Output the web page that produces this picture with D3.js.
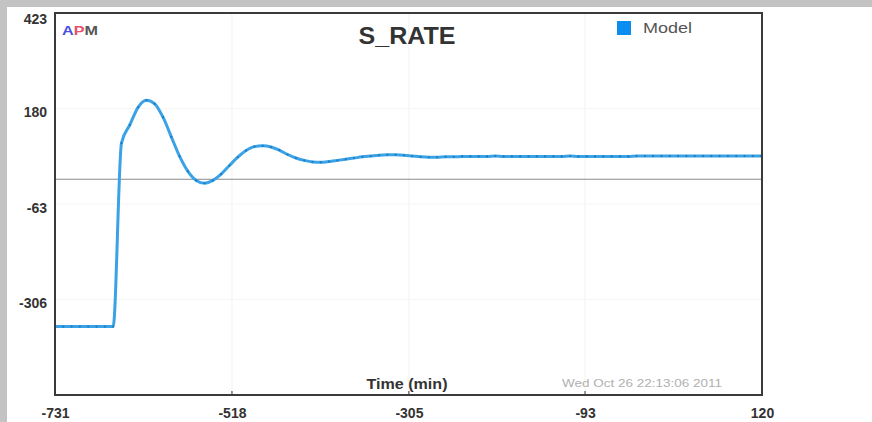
<!DOCTYPE html>
<html>
<head>
<meta charset="utf-8">
<script src="https://cdn.jsdelivr.net/npm/d3@7/dist/d3.min.js"></script>
<style>
  html, body { margin: 0; padding: 0; background: #fff; }
  svg { display: block; font-family: "Liberation Sans", Arial, sans-serif; }
</style>
</head>
<body>
<svg id="chart" width="872" height="422"></svg>
<script>
// ---- data ----
const times = [-731,-721,-711,-701,-691,-681,-671,-661,-651,-641,-631,-621,-611,-601,-591,-581,-571,-561,-551,-541,-531,-521,-511,-501,-491,-481,-471,-461,-451,-441,-431,-421,-411,-401,-391,-381,-371,-361,-351,-341,-331,-321,-311,-301,-291,-281,-271,-261,-251,-241,-231,-221,-211,-201,-191,-181,-171,-161,-151,-141,-131,-121,-111,-101,-91,-81,-71,-61,-51,-41,-31,-21,-11,-1,9,19,29,39,49,59,69,79,89,99,109,119,120];
const modelValues = [-375,-375,-375,-375,-375,-375,-375,-375,92,138,183,201,192,158,108,58,20,-3,-10,-3,13,35,56,73,83,85,82,74,63,54,48,44,43,45,48,51,54,57,59,61,62,62,61,59,57,56,56,57,57,58,58,58,58,59,58,58,58,58,58,58,58,58,59,58,58,58,58,58,58,58,59,59,59,59,59,59,59,59,59,59,59,59,59,59,59,59,59];
const xTickValues = [-731, -518, -305, -93, 120];
const yTickValues = [-306, -63, 180, 423];
const xDomain = [-731, 120];
const yDomain = [-549, 423];
const seriesName = "Model";
const chartTitle = "S_RATE";
const xLabel = "Time (min)";
const stamp = "Wed Oct 26 22:13:06 2011";

// ---- layout ----
const svg = d3.select("#chart");
const W = 872, H = 422;
const pL = 55, pR = 762, pT = 13, pB = 395;
const fmt = d => String(d);

svg.append("rect").attr("x", 0).attr("y", 0).attr("width", W).attr("height", H).attr("fill", "#fff");
// grey frame strips
svg.append("rect").attr("x", 0).attr("y", 0).attr("width", W).attr("height", 7).attr("fill", "#c3c3c3");
svg.append("rect").attr("x", 0).attr("y", 0).attr("width", 7).attr("height", H).attr("fill", "#c3c3c3");

const x = d3.scaleLinear().domain(xDomain).range([pL, pR]);
const y = d3.scaleLinear().domain(yDomain).range([pB, pT]);

// faint grid
const grid = svg.append("g");
grid.selectAll("line.v").data(xTickValues.slice(1, -1)).join("line")
  .attr("x1", d => x(d)).attr("x2", d => x(d)).attr("y1", pT).attr("y2", pB)
  .attr("stroke", "#f2f2f2").attr("stroke-width", 1);
grid.selectAll("line.h").data(yTickValues.slice(0, -1)).join("line")
  .attr("x1", pL).attr("x2", pR).attr("y1", d => y(d)).attr("y2", d => y(d))
  .attr("stroke", "#f5f5f5").attr("stroke-width", 1);

// zero line
svg.append("line").attr("x1", pL).attr("x2", pR).attr("y1", y(0)).attr("y2", y(0))
  .attr("stroke", "#8a8a8a").attr("stroke-width", 1.2);

// axes (labels)
const xAxis = d3.axisBottom(x).tickValues(xTickValues).tickSize(0).tickPadding(13).tickFormat(fmt);
const gx = svg.append("g").attr("transform", `translate(0,${pB})`).call(xAxis);
gx.select(".domain").remove();
gx.selectAll("text").attr("font-size", 14).attr("font-weight", "bold").attr("fill", "#333")
  .attr("font-family", "Liberation Sans, Arial, sans-serif");

const yAxis = d3.axisLeft(y).tickValues(yTickValues).tickSize(0).tickPadding(8).tickFormat(fmt);
const gy = svg.append("g").attr("transform", `translate(${pL},0)`).call(yAxis);
gy.select(".domain").remove();
gy.selectAll("text").attr("font-size", 14).attr("font-weight", "bold").attr("fill", "#333")
  .attr("dy", "0.6em").attr("font-family", "Liberation Sans, Arial, sans-serif");
gy.selectAll(".tick").filter(d => d === 423).select("text").attr("dy", "0.72em");

// small inner ticks on bottom axis
svg.append("g").selectAll("line").data(xTickValues.slice(1, -1)).join("line")
  .attr("x1", d => x(d)).attr("x2", d => x(d)).attr("y1", pB).attr("y2", pB - 4)
  .attr("stroke", "#333").attr("stroke-width", 1);

// series line
const line = d3.line().x((d, i) => x(times[i])).y(d => y(d)).curve(d3.curveMonotoneX);
svg.append("path").datum(modelValues).attr("d", line)
  .attr("fill", "none").attr("stroke", "#3aa2e6").attr("stroke-width", 3).attr("stroke-linejoin", "round");
svg.append("g").selectAll("circle").data(modelValues).join("circle")
  .attr("cx", (d, i) => x(times[i])).attr("cy", d => y(d)).attr("r", 1.1).attr("fill", "#1f78bd");

// plot frame
svg.append("rect").attr("x", pL).attr("y", pT).attr("width", pR - pL).attr("height", pB - pT)
  .attr("fill", "none").attr("stroke", "#3a3a3a").attr("stroke-width", 2);

// title
svg.append("text").attr("x", 407).attr("y", 44).attr("text-anchor", "middle")
  .attr("font-size", 23).attr("font-weight", "bold").attr("fill", "#333")
  .attr("textLength", 97).attr("lengthAdjust", "spacingAndGlyphs").text(chartTitle);

// APM logo
const apm = svg.append("text").attr("x", 62).attr("y", 35).attr("font-size", 13).attr("font-weight", "bold")
  .attr("textLength", 36).attr("lengthAdjust", "spacingAndGlyphs");
apm.append("tspan").attr("fill", "#4b4fe0").text("A");
apm.append("tspan").attr("fill", "#e5506e").text("P");
apm.append("tspan").attr("fill", "#555").text("M");

// legend
svg.append("rect").attr("x", 617).attr("y", 21).attr("width", 14).attr("height", 14).attr("fill", "#0b8cef");
svg.append("text").attr("x", 643).attr("y", 33).attr("font-size", 14).attr("fill", "#555")
  .attr("textLength", 49).attr("lengthAdjust", "spacingAndGlyphs").text(seriesName);

// x label
svg.append("text").attr("x", 407).attr("y", 389).attr("text-anchor", "middle")
  .attr("font-size", 14).attr("font-weight", "bold").attr("fill", "#333")
  .attr("textLength", 81).attr("lengthAdjust", "spacingAndGlyphs").text(xLabel);

// timestamp
svg.append("text").attr("x", 562).attr("y", 387).attr("font-size", 10.5).attr("fill", "#b0b0b0")
  .attr("textLength", 160).attr("lengthAdjust", "spacingAndGlyphs").text(stamp);
</script>
</body>
</html>
